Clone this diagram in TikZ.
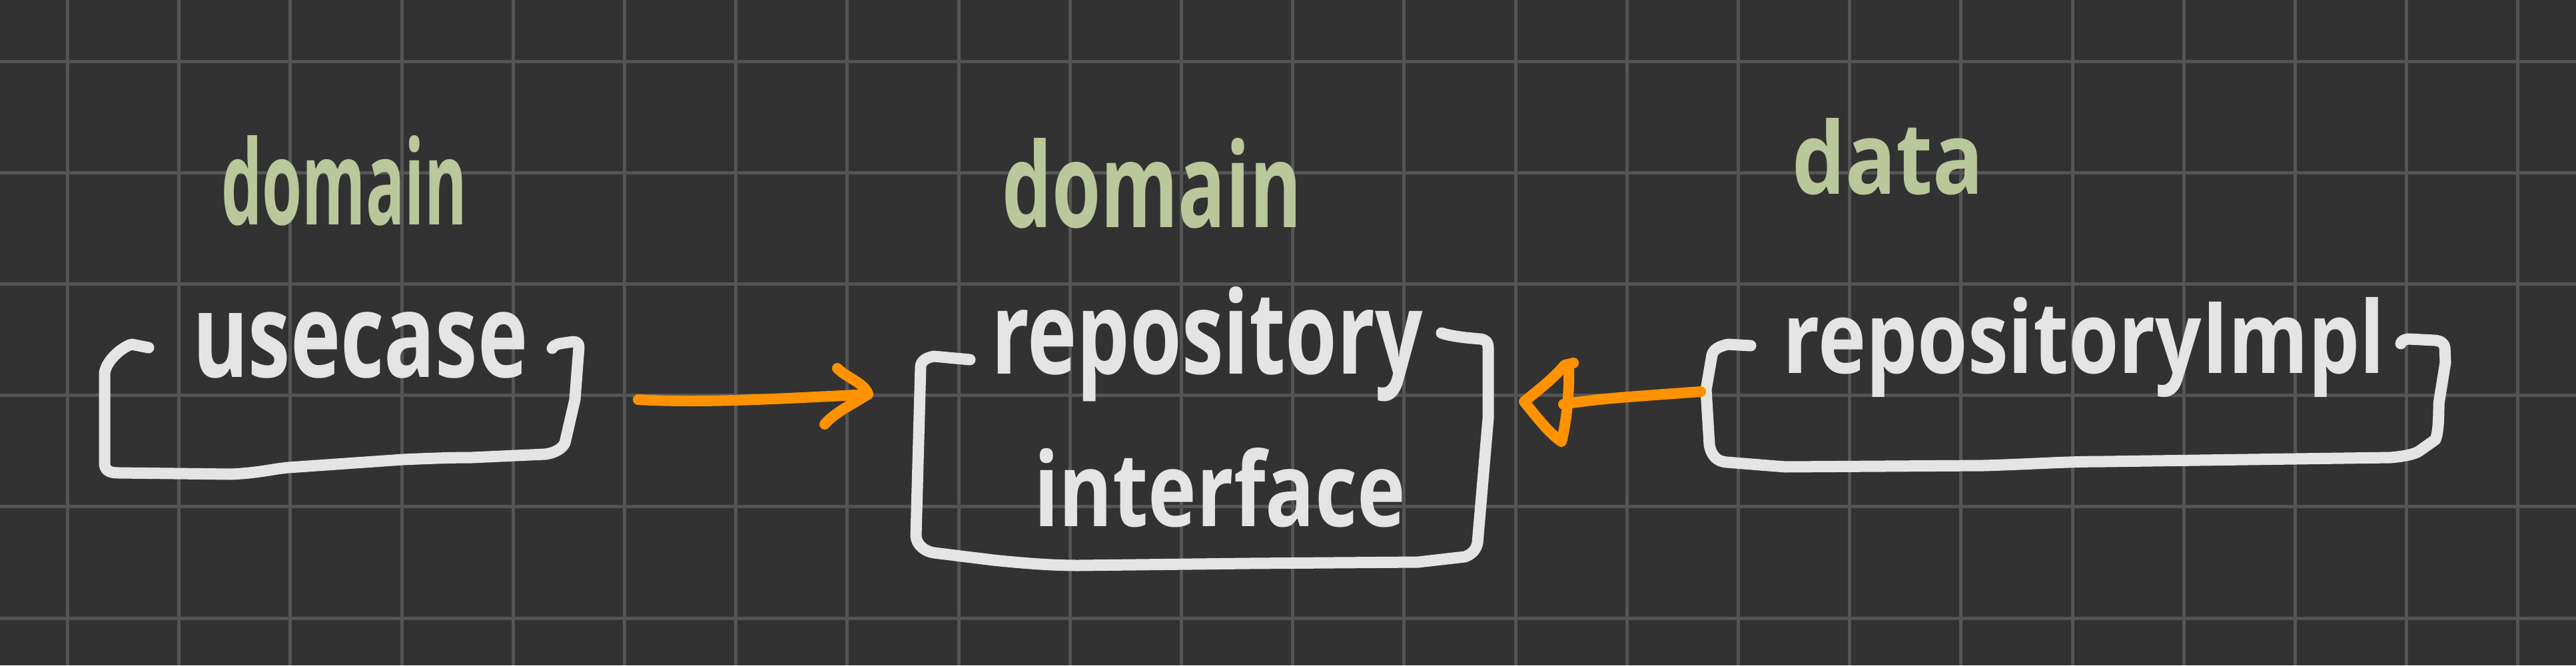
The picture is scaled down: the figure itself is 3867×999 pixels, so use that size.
\documentclass[tikz,border=0pt]{standalone}
\usepackage{fontspec}
\usepackage{graphicx}
\newfontfamily\hand{Open Sans}
\definecolor{bgc}{HTML}{323232}
\definecolor{gridc}{HTML}{555555}
\definecolor{inkw}{HTML}{E4E4E4}
\definecolor{inkg}{HTML}{B9C79B}
\definecolor{inko}{HTML}{FF9200}
\tikzset{
  gridline/.style={draw=gridc, line width=5pt},
  boxline/.style={draw=inkw, line width=17pt, line cap=round, line join=round},
  arrowline/.style={draw=inko, line width=16pt, line cap=round, line join=round},
  layer/.style={anchor=base west, inner sep=0pt, text=inkg, font=\hand\bfseries},
  word/.style={anchor=base west, inner sep=0pt, text=inkw, font=\hand\bfseries},
}
\begin{document}
\begin{tikzpicture}[x=1pt, y=-1pt]
\useasboundingbox (0,0) rectangle (3867,999);
\fill[bgc] (0,0) rectangle (3867,999);
% grid
\foreach \k in {0,...,22} {
  \draw[gridline] ({101.5+167.2*\k},0) -- ({101.5+167.2*\k},999);
}
\foreach \k in {0,...,5} {
  \draw[gridline] (0,{92+167.2*\k}) -- (3867,{92+167.2*\k});
}
% layer labels
\node[layer] (lbl1) at (332,337) {\resizebox{369pt}{134pt}{domain}};
\node[layer] (lbl2) at (1504,341) {\resizebox{450pt}{134pt}{domain}};
\node[layer] (lbl3) at (2690,291) {\resizebox{287pt}{114pt}{data}};
% words
\node[word] (uc) at (289,566) {\resizebox{503pt}{98pt}{usecase}};
\node[word] (repo) at (1488,561) {\resizebox{647pt}{131pt}{repository}};
\node[word] (intf) at (1552,790) {\resizebox{558pt}{118pt}{interface}};
\node[word] (impl) at (2676,560) {\resizebox{904pt}{114pt}{repositoryImpl}};
% bracket boxes
\draw[boxline] (223,522) -- (198,517) .. controls (185,520) and (160,540) .. (157,560)
  -- (157,697) .. controls (158,707) and (165,710) .. (178,710)
  -- (347,712) .. controls (390,710) and (410,704) .. (433,702)
  -- (605,690) .. controls (650,688) and (680,687) .. (708,687)
  -- (818,682) .. controls (835,680) and (845,672) .. (848,665)
  -- (863,600) -- (869,522) .. controls (869,515) and (866,513) .. (860,513)
  -- (840,516) .. controls (833,518) and (830,520) .. (829,523);
\draw[boxline] (1456,540) -- (1402,535) .. controls (1390,537) and (1383,542) .. (1382,550)
  -- (1375,805) .. controls (1376,818) and (1388,828) .. (1402,830)
  -- (1491,841) .. controls (1540,846) and (1580,849) .. (1619,849)
  -- (1874,846) -- (2129,844) -- (2199,836) .. controls (2210,832) and (2216,825) .. (2218,815)
  -- (2234,628) -- (2234,523) .. controls (2234,513) and (2230,510) .. (2222,509)
  -- (2200,507) .. controls (2185,505) and (2172,503) .. (2164,500);
\draw[boxline] (2628,519) -- (2594,517) .. controls (2580,520) and (2572,525) .. (2570,533)
  -- (2561,585) -- (2566,668) .. controls (2569,685) and (2578,693) .. (2592,694)
  -- (2680,701) -- (2977,699) .. controls (3050,697) and (3100,693) .. (3159,693)
  -- (3589,687) .. controls (3610,685) and (3625,682) .. (3632,677)
  -- (3656,660) .. controls (3660,650) and (3661,630) .. (3661,606)
  -- (3671,544) -- (3670,522) .. controls (3669,515) and (3664,512) .. (3655,511)
  -- (3615,509) .. controls (3608,510) and (3605,512) .. (3604,516);
% connectors
\coordinate (a1s) at (958,600);
\coordinate (a1e) at (1303,592);
\coordinate (a2s) at (2553,588);
\coordinate (a2e) at (2347,607);
\draw[arrowline] (a1s) .. controls (1050,605) and (1150,600) .. (a1e);
\draw[arrowline] (1257,553) .. controls (1272,568) and (1298,575) .. (a1e)
  .. controls (1278,608) and (1252,620) .. (1238,637);
\draw[arrowline] (a2s) .. controls (2460,595) and (2400,598) .. (a2e);
\draw[arrowline] (2362,545) -- (2349,548) .. controls (2330,570) and (2310,585) .. (2288,603)
  .. controls (2310,630) and (2325,650) .. (2344,663)
  .. controls (2352,630) and (2356,590) .. (2355,548);
\end{tikzpicture}
\end{document}
